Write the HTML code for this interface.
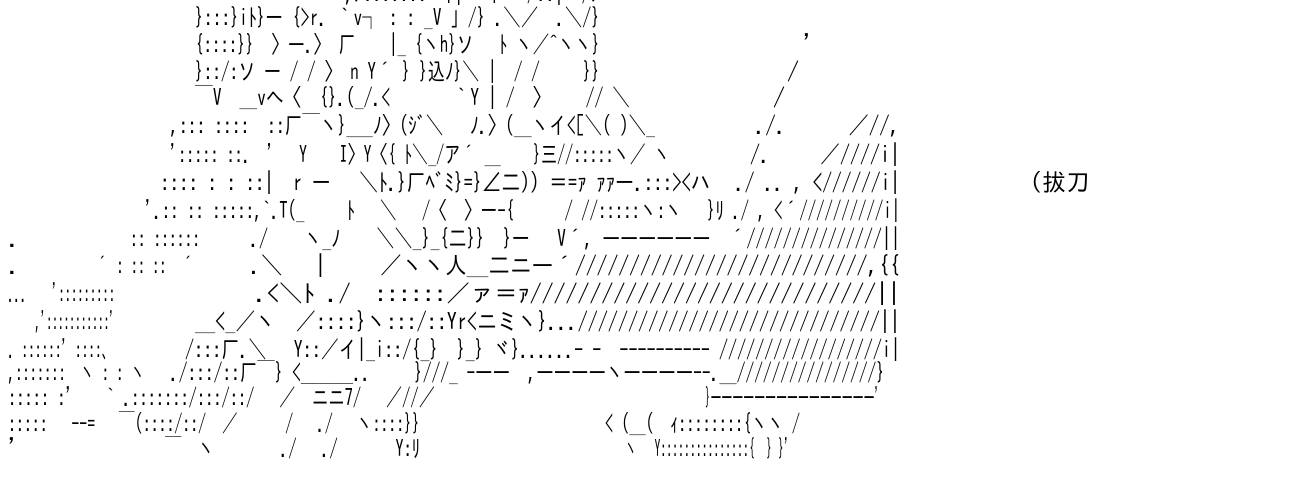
<!DOCTYPE html>
<html><head><meta charset="utf-8">
<style>
html,body{margin:0;padding:0;background:#fff;}
svg{display:block}
text{font-family:"IPAGothic","Noto Sans CJK JP","Liberation Sans",sans-serif;font-size:24px;fill:#000;white-space:pre;}
</style></head><body>
<svg width="1300" height="500" viewBox="0 0 1300 500" xmlns="http://www.w3.org/2000/svg" xml:space="preserve">
<g>
<text x="290" y="2" textLength="310" lengthAdjust="spacingAndGlyphs">￣￣  ,ﾉ:::::::  ﾄ|   ﾄ   /::|  /ﾉ</text>
<text x="195" y="26" textLength="405" lengthAdjust="spacingAndGlyphs">}:::}iﾄ}ー {&gt;r. ｀v┐ : : _V 」/} .＼／  .＼/}</text>
<text x="195" y="53" textLength="405" lengthAdjust="spacingAndGlyphs">{::::}}  〉―.〉 厂    |_ {ヽh}ソ   ﾄ ヽ／^ヽヽ}</text>
<text x="803" y="53">'</text>
<text x="195" y="80" textLength="405" lengthAdjust="spacingAndGlyphs">}::/:ソ ー / / 〉 n Y´ } }込ﾉ}＼ |  / /     }}</text>
<text x="787" y="80">/</text>
<text x="195" y="106" textLength="435" lengthAdjust="spacingAndGlyphs">￣V  __vへ〈  {}.(_/.&lt;       ｀Y | /  〉    // ＼</text>
<text x="773" y="106">/</text>
<text x="170" y="134" textLength="485" lengthAdjust="spacingAndGlyphs">,::: ::::  ::厂￣ヽ}___ﾉ〉(ｼﾞ＼   ﾉ.〉(__ヽイ&lt;[＼( )＼_</text>
<text x="755" y="134" textLength="145" lengthAdjust="spacingAndGlyphs">./.      ／//,</text>
<text x="170" y="163" textLength="500" lengthAdjust="spacingAndGlyphs">'::::: ::.  '   Y    I〉Y〈{ ﾄ＼_/ア´ __    }三//:::::ヽ／ ヽ</text>
<text x="750" y="163" textLength="150" lengthAdjust="spacingAndGlyphs">/.     ／////i|</text>
<text x="160" y="191" textLength="550" lengthAdjust="spacingAndGlyphs">:::: : : ::|  r ー   ＼ﾄ.}厂ﾍﾞﾐ}=}∠二)) ＝=ｧ ｧｧー.:::&gt;&lt;ハ</text>
<text x="735" y="191" textLength="165" lengthAdjust="spacingAndGlyphs">./ .. , &lt;//////i|</text>
<text x="1030" y="191" textLength="60" lengthAdjust="spacingAndGlyphs">(拔刀</text>
<text x="145" y="219" textLength="755" lengthAdjust="spacingAndGlyphs">'.:: :: :::::,`.T(_     ﾄ   ＼   /〈  〉ー-{      / //:::::ヽ:ヽ   }ﾘ ./ , &lt;´//////////i|</text>
<text x="8" y="247">.</text>
<text x="130" y="247" textLength="70" lengthAdjust="spacingAndGlyphs">:: ::::::</text>
<text x="250" y="247" textLength="650" lengthAdjust="spacingAndGlyphs">./    ヽ_ﾉ    ＼＼_}_{二}}  }ー   V´, ――――――  ´///////////////||</text>
<text x="8" y="274">.</text>
<text x="95" y="274" textLength="100" lengthAdjust="spacingAndGlyphs">´ : :: ::  ´</text>
<text x="250" y="274" textLength="650" lengthAdjust="spacingAndGlyphs">.＼   |     ／ヽヽ人__二ニ―´///////////////////////////,{{</text>
<text x="8" y="302" textLength="107" lengthAdjust="spacingAndGlyphs">...    ':::::::::</text>
<text x="255" y="302" textLength="645" lengthAdjust="spacingAndGlyphs">.&lt;＼ﾄ ./  ::::::／ァ＝ｧ/////////////////////////////||</text>
<text x="35" y="330" textLength="80" lengthAdjust="spacingAndGlyphs">,':::::::::::'</text>
<text x="195" y="330" textLength="705" lengthAdjust="spacingAndGlyphs">__&lt;_／ヽ  ／::::}ヽ:::/::Yr&lt;ニミヽ}...//////////////////////////////||</text>
<text x="8" y="358" textLength="107" lengthAdjust="spacingAndGlyphs">. ::::::' ::::、</text>
<text x="185" y="358" textLength="715" lengthAdjust="spacingAndGlyphs">/:::厂.＼   Y::／イ|_i::/{_}  }_} ヾ}......- -  ---------- //////////////////i|</text>
<text x="8" y="381" textLength="137" lengthAdjust="spacingAndGlyphs">,:::::::  ヽ : : ヽ</text>
<text x="170" y="381" textLength="715" lengthAdjust="spacingAndGlyphs">./:::/::厂￣} &lt;＿＿＿..     }///_ -――  ,――――ヽ――――--.__////////////////}</text>
<text x="8" y="406" textLength="427" lengthAdjust="spacingAndGlyphs">::::: :'    ` .:::::::/:::/::/   ／  ニニ7/   ／//／</text>
<text x="705" y="406" textLength="175" lengthAdjust="spacingAndGlyphs">}―――――――――――――――'</text>
<text x="8" y="432" textLength="412" lengthAdjust="spacingAndGlyphs">:::::   --=   ￣(::::/::/  ／      /   ./   ヽ::::}}</text>
<text x="605" y="432" textLength="195" lengthAdjust="spacingAndGlyphs">&lt; (__(  ｨ::::::::{ヽヽ /</text>
<text x="8" y="457">'</text>
<text x="165" y="457" textLength="255" lengthAdjust="spacingAndGlyphs">￣  ヽ        ./   ./       Y:ﾘ</text>
<text x="625" y="457" textLength="165" lengthAdjust="spacingAndGlyphs">ヽ   Y:::::::::::::::{  } }'</text>
</g>
</svg>
</body></html>
